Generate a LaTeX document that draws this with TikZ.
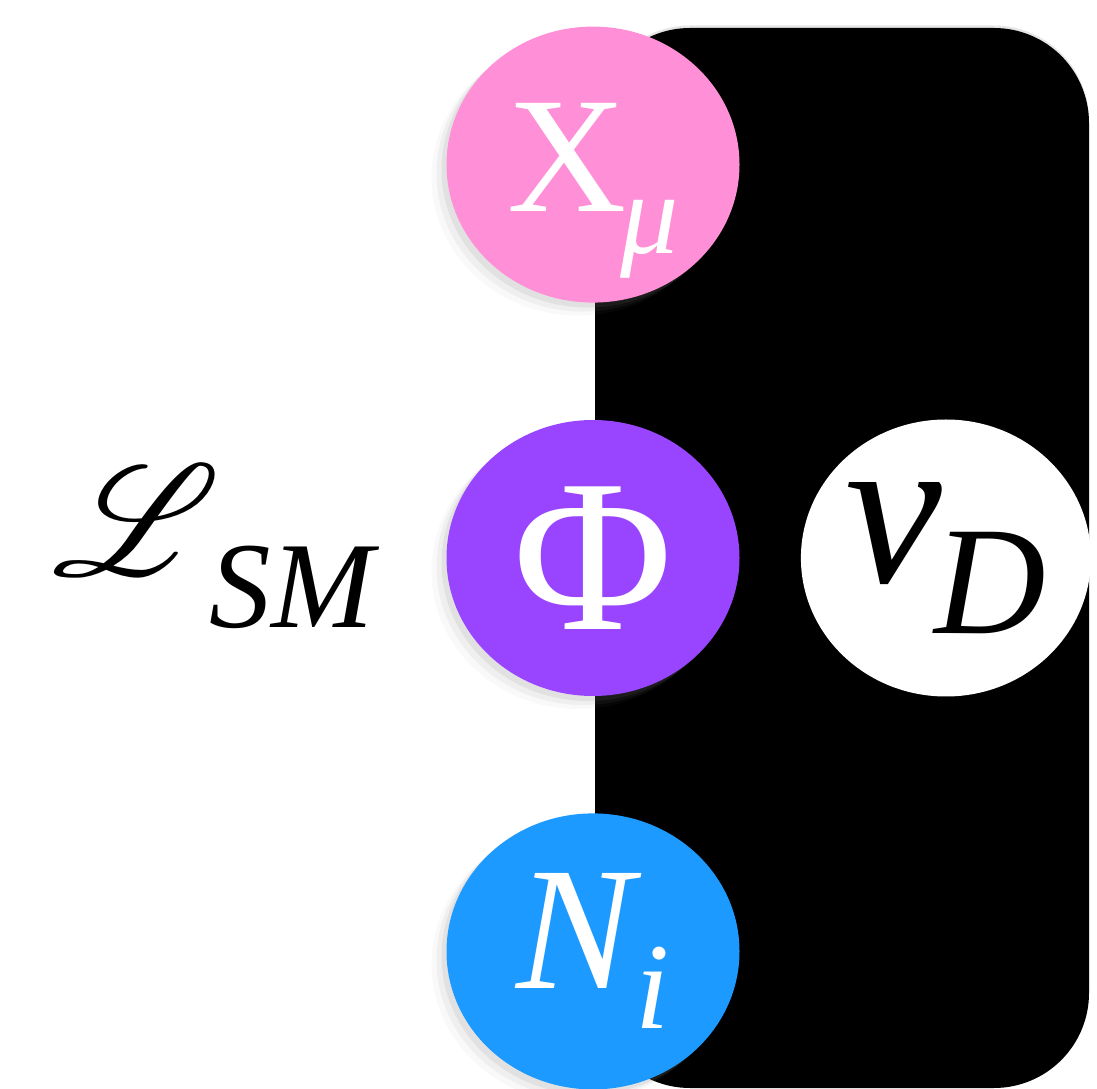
\documentclass[tikz,border=0pt]{standalone}
\usepackage{amsmath}
\usepackage{amssymb}
\usepackage{graphicx}
\usepackage{mathrsfs}
\usepackage{fontspec}
\setmainfont{Liberation Serif}
\usetikzlibrary{positioning,shapes.geometric,shadows}

\definecolor{pinkX}{RGB}{255,143,214}
\definecolor{purplePhi}{RGB}{153,69,255}
\definecolor{blueN}{RGB}{28,154,255}

% big letter with a lowered subscript: {size}{letter}{sub size}{drop}{sub}
\newcommand{\fieldlbl}[5]{{\fontsize{#1}{#1}\selectfont #2}\raisebox{-#4}{\fontsize{#3}{#3}\selectfont\itshape #5}}

\tikzset{
  field/.style={ellipse, minimum width=2.93cm, minimum height=2.76cm, inner sep=0pt,
    text=white},
  soft shadow/.style={
    drop shadow={shadow xshift=-0.05cm, shadow yshift=-0.05cm, opacity=0.12},
    drop shadow={shadow xshift=-0.10cm, shadow yshift=-0.09cm, opacity=0.08},
    drop shadow={shadow xshift=-0.15cm, shadow yshift=-0.13cm, opacity=0.05}},
}

\begin{document}
\begin{tikzpicture}[node distance=1.16cm]
    \useasboundingbox (0,0) rectangle (10.97,10.88);
    % dark sector
    \fill[black, rounded corners=0.95cm,
      drop shadow={shadow xshift=0cm, shadow yshift=0.025cm, opacity=0.2}]
      (5.95,0) rectangle (10.89,10.60);

    \node[field, soft shadow, fill=purplePhi, font=\fontsize{62}{62}\selectfont] (phi) at (5.93,5.30) {Φ};
    \node[field, soft shadow, fill=pinkX, text height=1.3cm, text depth=0.36cm]
      (xmu) [above=of phi] {\fieldlbl{47}{X}{33}{0.42cm}{\kern-0.06em μ}};
    \node[field, soft shadow, fill=blueN] (Ni) [below=of phi]
      {\fieldlbl{50}{\itshape N}{35}{0.40cm}{\kern0.02em i}};
    \node[field, fill=white, text=black, minimum width=2.9cm, minimum height=2.77cm]
      (nuD) [right=0.6cm of phi] {\fieldlbl{62}{\itshape ν}{44}{0.51cm}{\kern-0.05em D}};

    \node (lsm) at (2.13,5.41)
      {\fieldlbl{25}{\scalebox{1.8}{$\mathscr{L}$}}{35}{0.52cm}{\kern-0.08em SM}};
  \end{tikzpicture}
\end{document}
